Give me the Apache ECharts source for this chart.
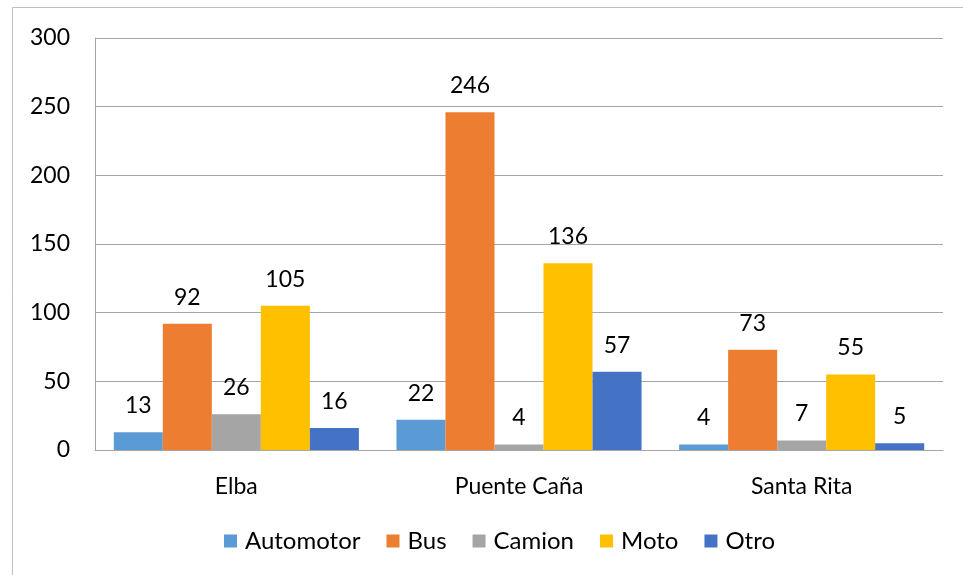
<!DOCTYPE html>
<html>
<head>
<meta charset="utf-8">
<script src="https://cdn.jsdelivr.net/npm/echarts@6/dist/echarts.min.js"></script>
<style>html,body{margin:0;padding:0;background:#fff}#c{width:963px;height:575px}</style>
</head>
<body>
<div id="c"></div>
<script>
const categories = ['Elba', 'Puente Caña', 'Santa Rita'];
const seriesNames = ['Automotor', 'Bus', 'Camion', 'Moto', 'Otro'];
const automotor = [13, 22, 4];
const bus = [92, 246, 73];
const camion = [26, 4, 7];
const moto = [105, 136, 55];
const otro = [16, 57, 5];
const colors = ['#5B9BD5', '#ED7D31', '#A5A5A5', '#FFC000', '#4472C4'];
const allValues = [automotor, bus, camion, moto, otro];

const font = 'Lato, "Open Sans", sans-serif';
const chart = echarts.init(document.getElementById('c'));
chart.setOption({
  animation: false,
  textStyle: { fontFamily: font },
  graphic: [{
    type: 'rect', shape: { x: 12.5, y: 7.5, width: 1000, height: 1000 },
    style: { fill: 'none', stroke: '#bfbfbf', lineWidth: 1 }, z: -1
  }],
  grid: { left: 95, right: 20, top: 38, bottom: 125 },
  legend: {
    left: 219, top: 524, itemWidth: 13, itemHeight: 13, itemGap: 26,
    icon: 'rect',
    textStyle: { fontSize: 24, color: '#000', fontFamily: font, padding: [0, 0, 0, 3] },
    data: seriesNames
  },
  xAxis: {
    type: 'category', data: categories,
    axisLine: { lineStyle: { color: '#a6a6a6' } },
    axisTick: { show: false },
    axisLabel: { fontSize: 23, color: '#000', margin: 25, fontFamily: font }
  },
  yAxis: {
    type: 'value', min: 0, max: 300, interval: 50,
    axisLine: { show: true, lineStyle: { color: '#a6a6a6' } },
    axisTick: { show: false },
    splitLine: { lineStyle: { color: '#a6a6a6' } },
    axisLabel: { fontSize: 23, color: '#000', margin: 25, fontFamily: font }
  },
  series: seriesNames.map((n, i) => ({
    name: n, type: 'bar', data: allValues[i],
    barGap: '0%', barCategoryGap: '13.3%',
    itemStyle: { color: colors[i] },
    label: { show: true, position: 'top', distance: 15, fontSize: 23, color: '#000', fontFamily: font }
  }))
});
</script>
</body>
</html>
